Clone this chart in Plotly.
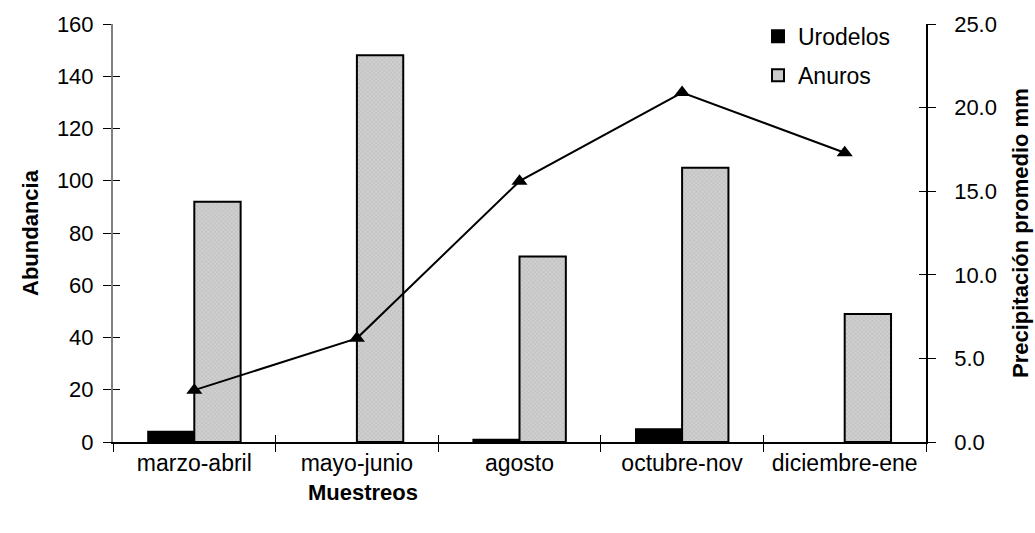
import plotly.graph_objects as go

categories = ["marzo-abril", "mayo-junio", "agosto", "octubre-nov", "diciembre-ene"]
urodelos = [4, 0, 1, 5, 0]
anuros = [92, 148, 71, 105, 49]
precip = [3.1, 6.2, 15.6, 20.9, 17.3]
left_ticks = [0, 20, 40, 60, 80, 100, 120, 140, 160]
right_ticks = [0, 5, 10, 15, 20, 25]

FONT = "Arial, Liberation Sans, sans-serif"
TICK = 22
CAT = 23
TITLE = 22

fig = go.Figure()
fig.add_trace(go.Bar(
    x=categories, y=urodelos, name="Urodelos", legendgroup="u",
    marker=dict(color="black",
                line=dict(color="black", width=[1.5 if v > 0 else 0 for v in urodelos])),
    yaxis="y"))
fig.add_trace(go.Bar(
    x=categories, y=anuros, name="Anuros", legendgroup="a",
    marker=dict(color="#c4c4c4", line=dict(color="black", width=2),
                pattern=dict(shape="x", size=3, solidity=0.25,
                             fgcolor="#9a9a9a", bgcolor="#cfcfcf")),
    yaxis="y"))
fig.add_trace(go.Scatter(
    x=categories, y=precip, name="Precipitación", mode="lines+markers",
    line=dict(color="black", width=2),
    marker=dict(symbol="triangle-up", size=14, color="black"),
    yaxis="y2", showlegend=False))

# invisible traces to activate the inner-tick axes
fig.add_trace(go.Scatter(x=[categories[0]], y=[0], xaxis="x2", yaxis="y3", mode="markers",
                         marker=dict(opacity=0), showlegend=False, hoverinfo="skip"))
fig.add_trace(go.Scatter(x=[categories[0]], y=[0], xaxis="x2", yaxis="y4", mode="markers",
                         marker=dict(opacity=0), showlegend=False, hoverinfo="skip"))

fig.update_layout(
    width=1035, height=533,
    margin=dict(l=113, r=109, t=19, b=91),
    paper_bgcolor="white", plot_bgcolor="white",
    barmode="group", bargap=0.43, bargroupgap=0,
    font=dict(family=FONT, size=TICK, color="black"),
    showlegend=True,
    legend=dict(x=(766 - 113 - 8) / 813, y=1.022, xanchor="left", yanchor="top",
                bgcolor="rgba(0,0,0,0)", font=dict(size=CAT),
                itemsizing="constant", tracegroupgap=6, traceorder="grouped",
                itemwidth=30),
    xaxis=dict(
        type="category", showline=True, linecolor="black", linewidth=1.5,
        ticks="outside", ticklen=8, tickcolor="black", tickson="boundaries",
        showgrid=False, zeroline=False, tickfont=dict(size=CAT)),
    xaxis2=dict(
        type="category", overlaying="x", categoryarray=categories,
        categoryorder="array", range=[-0.5, 4.5],
        ticks="inside", ticklen=7, tickcolor="black", tickson="boundaries",
        showticklabels=False, showgrid=False, zeroline=False, showline=False),
    yaxis=dict(
        range=[0, 160], tickvals=left_ticks, showline=True, linecolor="#808080",
        linewidth=2, ticks="outside", ticklen=8, tickcolor="black",
        showgrid=False, zeroline=False, tickfont=dict(size=TICK),
        ticklabelstandoff=5),
    yaxis2=dict(
        range=[0, 25], tickvals=right_ticks, tickformat=".1f", overlaying="y",
        side="right", showline=True, linecolor="black", linewidth=1.5,
        ticks="outside", ticklen=8, tickcolor="black", showgrid=False,
        zeroline=False, tickfont=dict(size=TICK), ticklabelstandoff=14),
    yaxis3=dict(
        range=[0, 160], tickvals=left_ticks, overlaying="y", side="left",
        ticks="inside", ticklen=7, tickcolor="black", showticklabels=False,
        showgrid=False, zeroline=False, showline=False),
    yaxis4=dict(
        range=[0, 25], tickvals=right_ticks, overlaying="y", side="right",
        ticks="inside", ticklen=7, tickcolor="black", showticklabels=False,
        showgrid=False, zeroline=False, showline=False),
    annotations=[
        dict(text="<b>Abundancia</b>", xref="paper", yref="paper",
             x=(30 - 113) / 813, y=0.5, textangle=-90, showarrow=False,
             font=dict(size=TITLE), xanchor="center", yanchor="middle"),
        dict(text="<b>Precipitación promedio mm</b>", xref="paper", yref="paper",
             x=(1020 - 113) / 813, y=0.5, textangle=-90, showarrow=False,
             font=dict(size=TITLE), xanchor="center", yanchor="middle"),
        dict(text="<b>Muestreos</b>", xref="paper", yref="paper",
             x=(363 - 113) / 813, y=(442 - 493) / 423, showarrow=False,
             font=dict(size=TITLE), xanchor="center", yanchor="middle"),
    ],
)

fig.write_html("out.html")
